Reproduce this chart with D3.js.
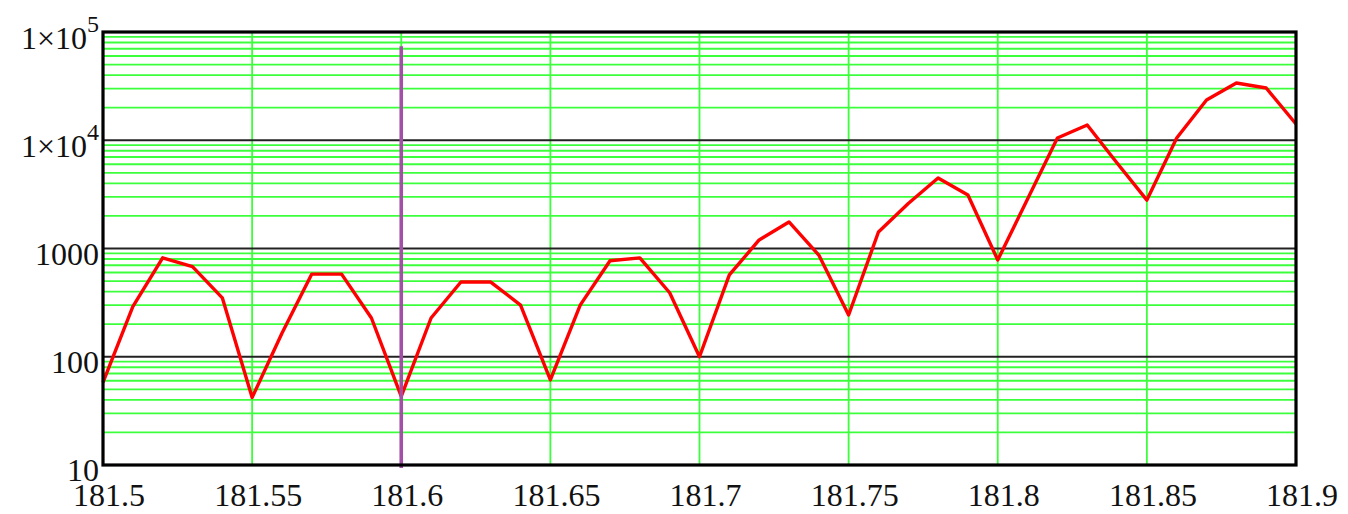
<!DOCTYPE html>
<html>
<head>
<meta charset="utf-8">
<script src="https://cdn.jsdelivr.net/npm/d3@7"></script>
<style>
  html, body { margin: 0; padding: 0; background: #fff; }
  svg { display: block; }
</style>
</head>
<body>
<svg id="chart" width="1348" height="514"></svg>
<script>
// ---- data ----
const xValues = [181.50,181.51,181.52,181.53,181.54,181.55,181.56,181.57,181.58,181.59,
                 181.60,181.61,181.62,181.63,181.64,181.65,181.66,181.67,181.68,181.69,
                 181.70,181.71,181.72,181.73,181.74,181.75,181.76,181.77,181.78,181.79,
                 181.80,181.81,181.82,181.83,181.84,181.85,181.86,181.87,181.88,181.89,181.90];
const yValues = [58,290,820,680,350,42,165,580,580,228,
                 43,228,490,490,300,61,300,770,820,390,
                 100,570,1200,1760,870,243,1420,2600,4480,3120,
                 783,2870,10480,13830,6170,2800,10480,23550,33800,30400,14130];
const markerX = 181.6;
const markerRange = [9.4, 74000];
const xTicks = [181.5,181.55,181.6,181.65,181.7,181.75,181.8,181.85,181.9];
const xTickLabels = ["181.5","181.55","181.6","181.65","181.7","181.75","181.8","181.85","181.9"];
const yTicks = [10,100,1000,10000,100000];
const yTickLabels = [["10",null],["100",null],["1000",null],["1\u00d710","4"],["1\u00d710","5"]];

(function () {
// ---- layout ----
const pLeft = 103, pRight = 1296, pTop = 32, pBottom = 465;
const svg = d3.select("#chart");
const x = d3.scaleLinear().domain([181.5, 181.9]).range([pLeft, pRight]);
const y = d3.scaleLog().domain([10, 100000]).range([pBottom, pTop]);
const font = "'Liberation Serif', 'Times New Roman', serif";

svg.append("rect").attr("width",1348).attr("height",514).attr("fill","#fff");

// minor horizontal grid (2..9 in each decade)
const minor = [];
[10,100,1000,10000].forEach(d => { for (let k = 2; k <= 9; k++) minor.push(d*k); });
svg.append("g").selectAll("line").data(minor).join("line")
  .attr("x1", pLeft).attr("x2", pRight)
  .attr("y1", d => y(d)).attr("y2", d => y(d))
  .attr("stroke", "#3cff3c").attr("stroke-width", 1.8);

// vertical grid
svg.append("g").selectAll("line").data(xTicks.slice(1, -1)).join("line")
  .attr("x1", d => x(d)).attr("x2", d => x(d))
  .attr("y1", pTop).attr("y2", pBottom)
  .attr("stroke", "#3cff3c").attr("stroke-width", 1.8);

// decade lines
svg.append("g").selectAll("line").data(yTicks.slice(1, -1)).join("line")
  .attr("x1", pLeft).attr("x2", pRight)
  .attr("y1", d => y(d)).attr("y2", d => y(d))
  .attr("stroke", "#222").attr("stroke-width", 1.8);

// data line
const line = d3.line().x((d,i) => x(xValues[i])).y(d => y(d));
svg.append("path").datum(yValues)
  .attr("d", line).attr("fill", "none")
  .attr("stroke", "#ff0000").attr("stroke-width", 3.4).attr("stroke-linejoin", "round");

// marker line
svg.append("line")
  .attr("x1", x(markerX)).attr("x2", x(markerX))
  .attr("y1", y(markerRange[1])).attr("y2", y(markerRange[0]))
  .attr("stroke", "#a24fa6").attr("stroke-width", 3.6);

// frame
svg.append("rect")
  .attr("x", pLeft).attr("y", pTop).attr("width", pRight-pLeft).attr("height", pBottom-pTop)
  .attr("fill", "none").attr("stroke", "#000").attr("stroke-width", 3.2);

// x tick labels
svg.append("g").selectAll("text").data(xTicks).join("text")
  .attr("x", d => x(d) + 6).attr("y", 506)
  .attr("text-anchor", "middle")
  .attr("font-family", font)
  .attr("font-size", 32).attr("fill", "#111")
  .text((d,i) => xTickLabels[i]);

// y tick labels
const yg = svg.append("g");
yTicks.forEach((t, i) => {
  const [base, exp] = yTickLabels[i];
  if (exp === null) {
    yg.append("text")
      .attr("x", 99).attr("y", y(t) + 16)
      .attr("text-anchor", "end")
      .attr("font-family", font)
      .attr("font-size", 32).attr("fill", "#111")
      .text(base);
  } else {
    const tx = yg.append("text")
      .attr("x", 99).attr("y", y(t) + 17)
      .attr("text-anchor", "end")
      .attr("font-family", font)
      .attr("font-size", 32).attr("fill", "#111");
    tx.append("tspan").text(base);
    tx.append("tspan").attr("font-size", 24).attr("dy", -17).text(exp);
  }
});
})();
</script>
</body>
</html>
